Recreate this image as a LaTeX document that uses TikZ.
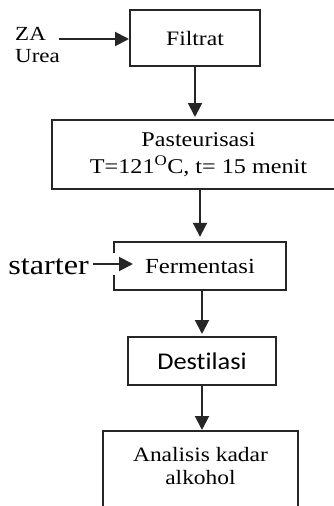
\documentclass[tikz,border=0pt]{standalone}
\usepackage{fontspec}
\setmainfont{Liberation Serif}[FakeStretch=1.15]
\newfontfamily\calib{Carlito}[FakeStretch=1.1, Ligatures=NoCommon]
\usetikzlibrary{arrows.meta}
\tikzset{
  boxline/.style={draw=black!85, line width=2pt},
  box/.style={boxline, inner sep=0pt, align=center},
  plain/.style={inner sep=0pt, align=center},
  arr/.style={draw=black!85, line width=2pt, -{Triangle[length=14pt,width=14pt]}},
}
\begin{document}
\begin{tikzpicture}[x=1pt,y=-1pt]
\useasboundingbox (0,0) rectangle (334,506);
\fill[white] (0,0) rectangle (334,506);
% Filtrat
\node[box, minimum width=130pt, minimum height=56pt, font=\fontsize{20.5}{24}\selectfont] (filtrat) at (195,38) {Filtrat};
\node[anchor=north west, align=left, inner sep=0pt, font=\fontsize{20}{22}\selectfont] (za) at (15,27) {ZA\\Urea};
\coordinate (zain) at (59,39);
\draw[arr] (zain) -- (zain -| filtrat.west);
% Pasteurisasi
\node[box, minimum width=293pt, minimum height=69pt, font=\fontsize{21}{27}\selectfont] (pas) at (198.5,154.5) {Pasteurisasi\\T=121\textsuperscript{O}C, t= 15 menit};
\draw[arr, shorten >=2pt] (filtrat.south) -- (filtrat.south |- pas.north);
% Fermentasi
\node[plain, minimum width=172pt, minimum height=48pt, font=\fontsize{21.5}{24}\selectfont] (ferm) at (200,266) {Fermentasi};
\draw[boxline] ([yshift=-11pt]ferm.north west) -- (ferm.north west) -- (ferm.north east) -- (ferm.south east) -- (ferm.south west) -- ([yshift=15pt]ferm.south west);
\draw[arr, shorten >=5pt] (pas.south -| ferm.north) -- (ferm.north);
\node[anchor=base east, inner sep=0pt, font=\fontsize{28}{30}\selectfont] (starter) at (89,274) {starter};
\coordinate (stin) at (93,264);
\coordinate (stout) at (133,264);
\draw[arr] (stin) -- (stout);
% Destilasi
\node[box, minimum width=148pt, minimum height=48pt, font=\calib\fontsize{24}{26}\selectfont] (dest) at (202,361) {Destilasi};
\draw[arr, shorten >=2pt] (dest.north |- ferm.south) -- (dest.north);
% Analisis
\node[box, minimum width=195pt, minimum height=110pt, anchor=north] (anal) at (200.5,430) {};
\node[plain, font=\fontsize{20.4}{23}\selectfont] (analtxt) at (200.5,466) {Analisis kadar\\alkohol};
\draw[arr] (dest.south) -- (dest.south |- anal.north);
\end{tikzpicture}
\end{document}
